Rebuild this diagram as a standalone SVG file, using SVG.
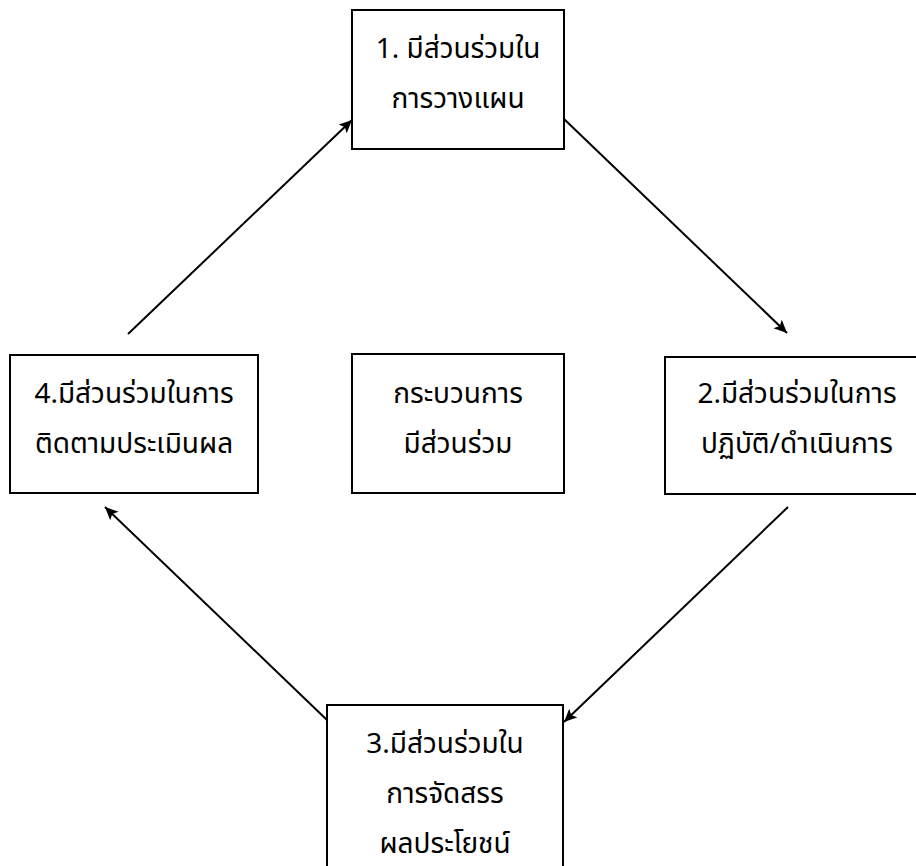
<svg xmlns="http://www.w3.org/2000/svg" width="916" height="866" viewBox="0 0 916 866">
<style>
.box{fill:#fff;stroke:#000;stroke-width:2}
.t{font-family:"Noto Sans","Noto Sans Thai","Liberation Sans",sans-serif;font-size:28px;fill:#000;text-anchor:middle}
.c{stroke:#000;stroke-width:2;fill:none;marker-end:url(#ah)}
</style>
<defs>
<marker id="ah" markerUnits="userSpaceOnUse" markerWidth="16" markerHeight="14" refX="13" refY="6" orient="auto">
<path d="M0,0 L13,6 L0,12 L3,6 Z" fill="#000"/>
</marker>
</defs>
<rect width="916" height="866" fill="#fff"/>
<g id="connectors">
<line class="c" x1="128" y1="334" x2="352" y2="120"/>
<line class="c" x1="564" y1="119" x2="787" y2="333"/>
<line class="c" x1="788" y1="507" x2="564" y2="722"/>
<line class="c" x1="327" y1="720" x2="105" y2="507"/>
</g>
<g id="node1">
<rect class="box" x="352" y="10" width="212" height="139"/>
<text class="t" x="458" y="58">1. มีส่วนร่วมใน</text>
<text class="t" x="458" y="108">การวางแผน</text>
</g>
<g id="node2">
<rect class="box" x="665" y="357" width="260" height="137"/>
<text class="t" x="797" y="403">2.มีส่วนร่วมในการ</text>
<text class="t" x="797" y="453">ปฏิบัติ/ดำเนินการ</text>
</g>
<g id="node3">
<rect class="box" x="327" y="705" width="236" height="170"/>
<text class="t" x="445" y="753">3.มีส่วนร่วมใน</text>
<text class="t" x="445" y="803">การจัดสรร</text>
<text class="t" x="445" y="853">ผลประโยชน์</text>
</g>
<g id="node4">
<rect class="box" x="10" y="355" width="248" height="138"/>
<text class="t" x="134" y="403">4.มีส่วนร่วมในการ</text>
<text class="t" x="134" y="453">ติดตามประเมินผล</text>
</g>
<g id="center">
<rect class="box" x="352" y="354" width="212" height="139"/>
<text class="t" x="458" y="403">กระบวนการ</text>
<text class="t" x="458" y="453">มีส่วนร่วม</text>
</g>
</svg>
